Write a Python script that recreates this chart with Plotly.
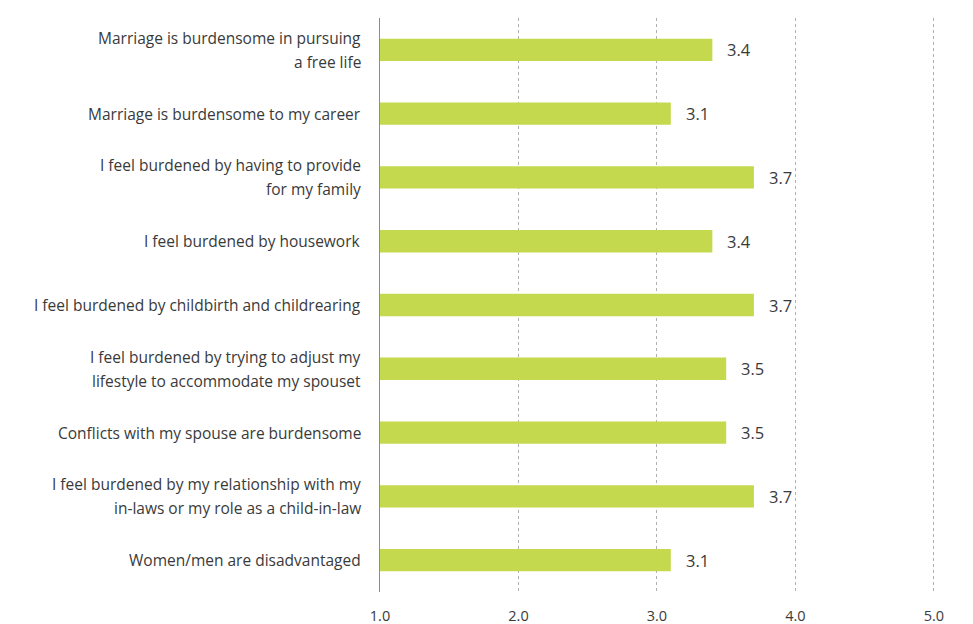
import plotly.graph_objects as go

categories = [
    "Marriage is burdensome in pursuing<br>a free life",
    "Marriage is burdensome to my career",
    "I feel burdened by having to provide<br>for my family",
    "I feel burdened by housework",
    "I feel burdened by childbirth and childrearing",
    "I feel burdened by trying to adjust my<br>lifestyle to accommodate my spouset",
    "Conflicts with my spouse are burdensome",
    "I feel burdened by my relationship with my<br>in-laws or my role as a child-in-law",
    "Women/men are disadvantaged",
]
values = [3.4, 3.1, 3.7, 3.4, 3.7, 3.5, 3.5, 3.7, 3.1]
tick_vals = [1, 2, 3, 4, 5]
tick_text = ["1.0", "2.0", "3.0", "4.0", "5.0"]

FONT = "Open Sans, Noto Sans, sans-serif"
TXT = "#3a3a3a"
LINE_GAP = 24

fig = go.Figure()
fig.add_trace(go.Bar(
    y=categories, x=values, orientation="h",
    marker=dict(color="#c5d94e", line=dict(width=0)),
    width=0.35, hoverinfo="skip",
))
for c, v in zip(categories, values):
    fig.add_annotation(x=v, y=c, text=f"{v:.1f}", showarrow=False,
                       xanchor="left", xshift=13,
                       font=dict(family=FONT, size=16.5, color=TXT))
    lines = c.split("<br>")
    n = len(lines)
    for i, ln in enumerate(lines):
        off = (i - (n - 1) / 2) * LINE_GAP
        fig.add_annotation(x=0, xref="paper", y=c, text=ln, showarrow=False,
                           xanchor="right", xshift=-17, yshift=-off,
                           font=dict(family=FONT, size=15.5, color=TXT))

fig.update_layout(
    width=973, height=624,
    margin=dict(l=372, r=45, t=10, b=40, autoexpand=False),
    paper_bgcolor="white", plot_bgcolor="white",
    showlegend=False,
    font=dict(family=FONT, size=15, color=TXT),
    xaxis=dict(range=[1, 5.015], tickvals=tick_vals, ticktext=tick_text, automargin=False,
               showgrid=True, gridcolor="#b0b0b0", griddash="3px,3px", gridwidth=1,
               zeroline=False, showline=False, ticks="outside", ticklen=11,
               tickcolor="rgba(0,0,0,0)", tickfont=dict(size=14.5, color=TXT)),
    yaxis=dict(autorange="reversed", showline=True, linecolor="#8c8c8c", linewidth=1,
               automargin=False,
               showgrid=False, showticklabels=False, ticks=""),
)
fig.write_html("out.html")
